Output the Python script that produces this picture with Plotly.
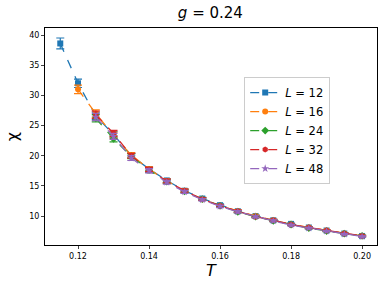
import plotly.graph_objects as go

T12 = [0.115, 0.12, 0.125, 0.13, 0.135, 0.14, 0.145, 0.15, 0.155, 0.16, 0.165, 0.17, 0.175, 0.18, 0.185, 0.19, 0.195, 0.20]
chi12 = [38.6, 32.0, 26.6, 23.5, 20.0, 17.8, 15.9, 14.2, 12.9, 11.8, 10.8, 10.0, 9.3, 8.7, 8.1, 7.6, 7.1, 6.7]
err12 = [0.9, 0.7, 0.6, 0.5, 0.4, 0.35, 0.3, 0.25, 0.2, 0.2, 0.18, 0.15, 0.15, 0.12, 0.12, 0.1, 0.1, 0.1]

T16 = [0.12, 0.125, 0.13, 0.135, 0.14, 0.145, 0.15, 0.155, 0.16, 0.165, 0.17, 0.175, 0.18, 0.185, 0.19, 0.195, 0.20]
chi16 = [31.0, 27.0, 23.4, 20.1, 17.8, 15.8, 14.2, 12.8, 11.7, 10.8, 10.0, 9.3, 8.6, 8.1, 7.6, 7.1, 6.7]
err16 = [0.7, 0.6, 0.5, 0.4, 0.35, 0.3, 0.25, 0.2, 0.2, 0.18, 0.15, 0.15, 0.12, 0.12, 0.1, 0.1, 0.1]

T24 = [0.125, 0.13, 0.135, 0.14, 0.145, 0.15, 0.155, 0.16, 0.165, 0.17, 0.175, 0.18, 0.185, 0.19, 0.195, 0.20]
chi24 = [26.2, 22.8, 19.9, 17.6, 15.7, 14.1, 12.8, 11.7, 10.7, 9.9, 9.2, 8.6, 8.0, 7.5, 7.1, 6.7]
err24 = [0.6, 0.5, 0.4, 0.35, 0.3, 0.25, 0.2, 0.2, 0.18, 0.15, 0.15, 0.12, 0.12, 0.1, 0.1, 0.1]

T32 = [0.125, 0.13, 0.135, 0.14, 0.145, 0.15, 0.155, 0.16, 0.165, 0.17, 0.175, 0.18, 0.185, 0.19, 0.195, 0.20]
chi32 = [26.8, 23.7, 20.0, 17.7, 15.8, 14.2, 12.8, 11.7, 10.8, 9.9, 9.3, 8.6, 8.1, 7.6, 7.1, 6.7]
err32 = [0.6, 0.5, 0.4, 0.35, 0.3, 0.25, 0.2, 0.2, 0.18, 0.15, 0.15, 0.12, 0.12, 0.1, 0.1, 0.1]

T48 = [0.125, 0.13, 0.135, 0.14, 0.145, 0.15, 0.155, 0.16, 0.165, 0.17, 0.175, 0.18, 0.185, 0.19, 0.195, 0.20]
chi48 = [26.4, 23.2, 19.6, 17.5, 15.6, 14.0, 12.7, 11.6, 10.7, 9.9, 9.2, 8.5, 8.0, 7.5, 7.0, 6.6]
err48 = [0.6, 0.5, 0.4, 0.35, 0.3, 0.25, 0.2, 0.2, 0.18, 0.15, 0.15, 0.12, 0.12, 0.1, 0.1, 0.1]

labels = ["12", "16", "24", "32", "48"]
colors = ["#1f77b4", "#ff7f0e", "#2ca02c", "#d62728", "#9467bd"]
symbols = ["square", "circle", "diamond", "hexagon", "star"]
series = [(T12, chi12, err12), (T16, chi16, err16), (T24, chi24, err24), (T32, chi32, err32), (T48, chi48, err48)]

fig = go.Figure()
for (t, c, e), lab, col, sym in zip(series, labels, colors, symbols):
    fig.add_trace(go.Scatter(
        x=t, y=c, mode="lines+markers",
        name="<i>L</i> = " + lab,
        line=dict(color=col, dash="dash", width=1.3),
        marker=dict(color=col, symbol=sym, size=6),
        error_y=dict(type="data", array=e, visible=True, color=col, thickness=1.2, width=4),
    ))

fig.update_layout(
    width=386, height=290,
    margin=dict(l=45, r=9, t=28, b=45),
    paper_bgcolor="white", plot_bgcolor="white",
    font=dict(family="DejaVu Sans", color="black"),
    title=dict(text="<i>g</i> = 0.24", x=0.545, xanchor="center", y=0.975, yanchor="top",
               font=dict(size=15, family="DejaVu Sans")),
    legend=dict(x=0.6, y=0.774, xanchor="left", yanchor="top",
                bgcolor="rgba(255,255,255,0.8)", bordercolor="#cccccc", borderwidth=1,
                font=dict(size=11.5), itemwidth=30, tracegroupgap=0),
    xaxis=dict(range=[0.1107, 0.2042], tickvals=[0.12, 0.14, 0.16, 0.18, 0.20],
               ticktext=["0.12", "0.14", "0.16", "0.18", "0.20"],
               ticks="outside", ticklen=3, tickfont=dict(size=8), automargin=False,
               showline=True, linecolor="black", linewidth=1, mirror=True, showgrid=False, zeroline=False,
               title=dict(text="<i>T</i>", font=dict(size=16), standoff=4)),
    yaxis=dict(range=[5.2, 41.16], tickvals=[10, 15, 20, 25, 30, 35, 40],
               ticks="outside", ticklen=3, tickfont=dict(size=8), automargin=False,
               showline=True, linecolor="black", linewidth=1, mirror=True, showgrid=False, zeroline=False,
               title=dict(text="χ", font=dict(size=16), standoff=6)),
)

fig.write_html("out.html", config={"displayModeBar": False},
               post_script="document.body.style.margin='0';document.body.style.padding='0';")
